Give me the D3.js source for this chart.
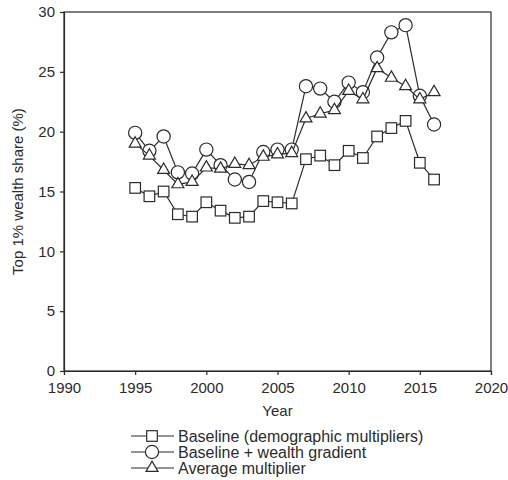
<!DOCTYPE html>
<html>
<head>
<meta charset="utf-8">
<script src="https://cdn.jsdelivr.net/npm/d3@7"></script>
<style>
  body { margin: 0; background: #fff; }
  svg { display: block; font-family: "Liberation Sans", Arial, sans-serif; }
</style>
</head>
<body>
<svg id="chart"></svg>
<script>
// data
const years = [1995, 1996, 1997, 1998, 1999, 2000, 2001, 2002, 2003, 2004, 2005,
  2006, 2007, 2008, 2009, 2010, 2011, 2012, 2013, 2014, 2015, 2016];
const baseline = [15.3, 14.6, 15.0, 13.1, 12.9, 14.1, 13.4, 12.8, 12.9, 14.2, 14.1,
  14.0, 17.7, 18.0, 17.2, 18.4, 17.8, 19.6, 20.3, 20.9, 17.4, 16.0];
const wealthGradient = [19.9, 18.4, 19.6, 16.6, 16.5, 18.5, 17.2, 16.0, 15.8, 18.3, 18.5,
  18.5, 23.8, 23.6, 22.5, 24.1, 23.3, 26.2, 28.3, 28.9, 23.0, 20.6];
const averageMult = [19.0, 18.0, 16.8, 15.6, 15.8, 17.0, 16.9, 17.3, 17.2, 17.9, 18.1,
  18.2, 21.1, 21.5, 21.8, 23.4, 22.7, 25.3, 24.5, 23.8, 22.7, 23.3];
const xTicks = [1990, 1995, 2000, 2005, 2010, 2015, 2020];
const yTicks = [0, 5, 10, 15, 20, 25, 30];
const seriesNames = ["Baseline (demographic multipliers)", "Baseline + wealth gradient", "Average multiplier"];
const seriesShapes = ["square", "circle", "triangle"];

const width = 508, height = 480;
const margin = { top: 12, right: 17, bottom: 109, left: 64 };
const ink = "#2b2b2b";

const svg = d3.select("#chart")
  .attr("width", width)
  .attr("height", height);

const x = d3.scaleLinear().domain([1990, 2020]).range([margin.left, width - margin.right]);
const y = d3.scaleLinear().domain([0, 30]).range([height - margin.bottom, margin.top]);

// axes
svg.append("g")
  .attr("transform", `translate(0,${height - margin.bottom})`)
  .call(d3.axisBottom(x).tickValues(xTicks).tickFormat(d3.format("d")).tickSize(4).tickPadding(7))
  .call(g => g.selectAll("text").attr("font-size", 15).attr("fill", ink));

svg.append("g")
  .attr("transform", `translate(${margin.left},0)`)
  .call(d3.axisLeft(y).tickValues(yTicks).tickSize(4).tickPadding(5))
  .call(g => g.selectAll("text").attr("font-size", 15).attr("fill", ink));

svg.selectAll(".domain, .tick line").attr("stroke", ink).attr("stroke-width", 1.2);

// frame
svg.append("rect")
  .attr("x", margin.left)
  .attr("y", margin.top)
  .attr("width", width - margin.left - margin.right)
  .attr("height", height - margin.top - margin.bottom)
  .attr("fill", "none")
  .attr("stroke", ink)
  .attr("stroke-width", 1.2);

// axis titles
svg.append("text")
  .attr("x", (x(1990) + x(2020)) / 2)
  .attr("y", 416)
  .attr("text-anchor", "middle")
  .attr("font-size", 15)
  .attr("fill", ink)
  .text("Year");

svg.append("text")
  .attr("transform", `translate(23,${(y(0) + y(30)) / 2}) rotate(-90)`)
  .attr("text-anchor", "middle")
  .attr("font-size", 15)
  .attr("fill", ink)
  .text("Top 1% wealth share (%)");

function drawMarker(g, shape) {
  if (shape === "square") {
    g.append("rect").attr("x", -5.3).attr("y", -5.3).attr("width", 10.6).attr("height", 10.6);
  } else if (shape === "circle") {
    g.append("circle").attr("r", 6.6);
  } else {
    g.append("path").attr("d", d3.symbol(d3.symbolTriangle, 62)());
  }
  g.selectAll("*").attr("fill", "#fff").attr("stroke", ink).attr("stroke-width", 1.2);
}

const allSeries = [baseline, wealthGradient, averageMult];
const line = d3.line().x(d => x(d[0])).y(d => y(d[1]));

[0, 1, 2].forEach(i => {
  const pts = years.map((yr, j) => [yr, allSeries[i][j]]);
  const g = svg.append("g");
  g.append("path")
    .attr("d", line(pts))
    .attr("fill", "none")
    .attr("stroke", ink)
    .attr("stroke-width", 1.2);
  g.selectAll(".m")
    .data(pts)
    .join("g")
    .attr("transform", d => `translate(${x(d[0])},${y(d[1])})`)
    .each(function() { drawMarker(d3.select(this), seriesShapes[i]); });
});

// legend
const legY = [436, 452, 468];
seriesNames.forEach((name, i) => {
  const g = svg.append("g").attr("transform", `translate(0,${legY[i]})`);
  g.append("line").attr("x1", 131).attr("x2", 174).attr("stroke", ink).attr("stroke-width", 1.2);
  const m = g.append("g").attr("transform", "translate(152,0)");
  drawMarker(m, seriesShapes[i]);
  g.append("text")
    .attr("x", 178)
    .attr("dy", "0.35em")
    .attr("font-size", 16)
    .attr("fill", ink)
    .text(name);
});
</script>
</body>
</html>
